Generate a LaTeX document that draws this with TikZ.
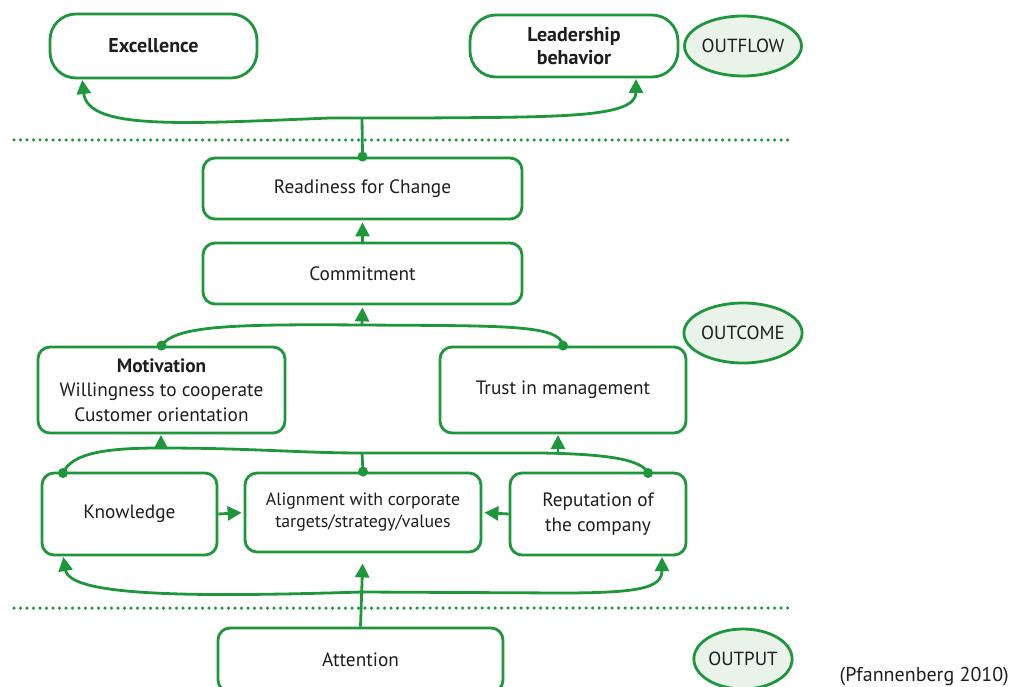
\documentclass[tikz,border=0pt]{standalone}
\usepackage{fontspec}
\setmainfont{PT Sans}
\usetikzlibrary{arrows.meta,shapes.geometric}
\definecolor{gr}{RGB}{30,150,60}
\definecolor{lgr}{RGB}{234,243,234}
\definecolor{txt}{RGB}{30,30,30}
\begin{document}
\begin{tikzpicture}[x=1pt,y=-1pt,
  box/.style={draw=gr, line width=2.8pt, rounded corners=12pt, fill=white, align=center, inner sep=0pt, text=txt, font=\fontsize{19.3}{24.5}\selectfont},
  topbox/.style={box, rounded corners=26pt, font=\fontsize{20}{23}\selectfont\bfseries},
  lab/.style={ellipse, draw=gr, fill=lgr, line width=2.8pt, inner sep=0pt, minimum width=100pt, minimum height=60pt, text=txt, font=\fontsize{19}{20}\selectfont},
  conn/.style={draw=gr, line width=2.8pt},
  arr/.style={conn, -{Triangle[length=14pt,width=14pt]}, shorten >=2pt},
  dotl/.style={draw=gr, line width=3.5pt, line cap=round, dash pattern=on 0pt off 6.5pt},
  jdot/.style={fill=gr}
]
\useasboundingbox (0,0) rectangle (1011,687);
% dotted separators
\coordinate (d1a) at (14,140); \coordinate (d1b) at (793,140);
\coordinate (d2a) at (14,608); \coordinate (d2b) at (793,608);
\draw[dotl] (d1a) -- (d1b);
\draw[dotl] (d2a) -- (d2b);
% nodes
\node[topbox, minimum width=207pt, minimum height=64pt] (exc) at (153.5,46) {Excellence};
\node[topbox, minimum width=208pt, minimum height=62pt] (lead) at (574,46) {Leadership\\behavior};
\node[lab] (outflow) at (743,46) {OUTFLOW};
\node[box, minimum width=319pt, minimum height=61pt] (ready) at (362.5,188.5) {Readiness for Change};
\node[box, minimum width=319pt, minimum height=61pt] (commit) at (362.5,273.5) {Commitment};
\node[lab, minimum width=106pt] (outcome) at (743,333) {OUTCOME};
\node[box, minimum width=247pt, minimum height=86pt] (mot) at (161.5,390) {\textbf{Motivation}\\Willingness to cooperate\\Customer orientation};
\node[box, minimum width=246pt, minimum height=86pt] (trust) at (563,390) {Trust in management};
\node[box, minimum width=175pt, minimum height=82pt] (know) at (129.5,514) {Knowledge};
\node[box, minimum width=236pt, minimum height=79pt, font=\fontsize{17.8}{22}\selectfont] (align) at (363,512.5) {Alignment with corporate\\targets/strategy/values};
\node[box, minimum width=176pt, minimum height=82pt] (rep) at (598,514) {Reputation of\\the company};
\node[box, minimum width=285pt, minimum height=64pt] (att) at (360.5,660) {Attention};
\node[lab, minimum width=98pt] (output) at (743,659) {OUTPUT};
\node[anchor=east, inner sep=0pt, text=txt, font=\fontsize{20}{22}\selectfont] (src) at (1009,677) {(Pfannenberg 2010)};
% coordinates
\coordinate (j1) at (362,118);
\coordinate (j2) at (362,325);
\coordinate (kd) at (63,473);
\coordinate (rd) at (648,473);
\coordinate (j3) at (362,453);
\coordinate (m3) at (161,448);
\coordinate (t3) at (558,453);
\coordinate (j4) at (362,592);
\coordinate (kb) at (63,555);
\coordinate (rb) at (662,555);
\coordinate (mb) at (161,433);
\coordinate (tb) at (558,433);
\coordinate (eb) at (82,78);
\coordinate (lb) at (636,77);
% top connectors
\draw[conn] (ready.north) -- (j1);
\draw[arr] (j1) -- (330,118) .. controls (180,124) and (88,130) .. (eb);
\draw[arr] (j1) -- (420,118) .. controls (560,117) and (636,118) .. (lb);
\fill[jdot] (ready.north) circle (5);
% commitment -> readiness
\draw[arr] (commit.north) -- (ready.south);
% motivation/trust -> commitment
\draw[conn] (mot.north) .. controls (175,326) and (230,324) .. (j2) .. controls (500,326) and (560,324) .. (trust.north);
\draw[arr] (j2) -- (commit.south);
\fill[jdot] (mot.north) circle (5);
\fill[jdot] (trust.north) circle (5);
% lower curve
\draw[conn] (kd) .. controls (72,452) and (110,448) .. (m3) .. controls (250,448) and (300,453) .. (j3) -- (540,453) .. controls (610,454) and (642,460) .. (rd);
\draw[conn] (align.north) -- (j3);
\draw[arr] (m3) -- (mb);
\draw[arr] (t3) -- (tb);
\fill[jdot] (kd) circle (5);
\fill[jdot] (rd) circle (5);
\fill[jdot] (align.north) circle (5);
% horizontal arrows
\draw[arr] (know.east) -- (align.west);
\draw[arr] (rep.west) -- (align.east);
% bottom curve
\draw[arr, shorten >=10pt] (att.north) -- (align.south);
\draw[arr] (j4) .. controls (200,597) and (70,597) .. (kb);
\draw[arr] (j4) -- (560,593) .. controls (640,593) and (662,588) .. (rb);
\end{tikzpicture}
\end{document}
